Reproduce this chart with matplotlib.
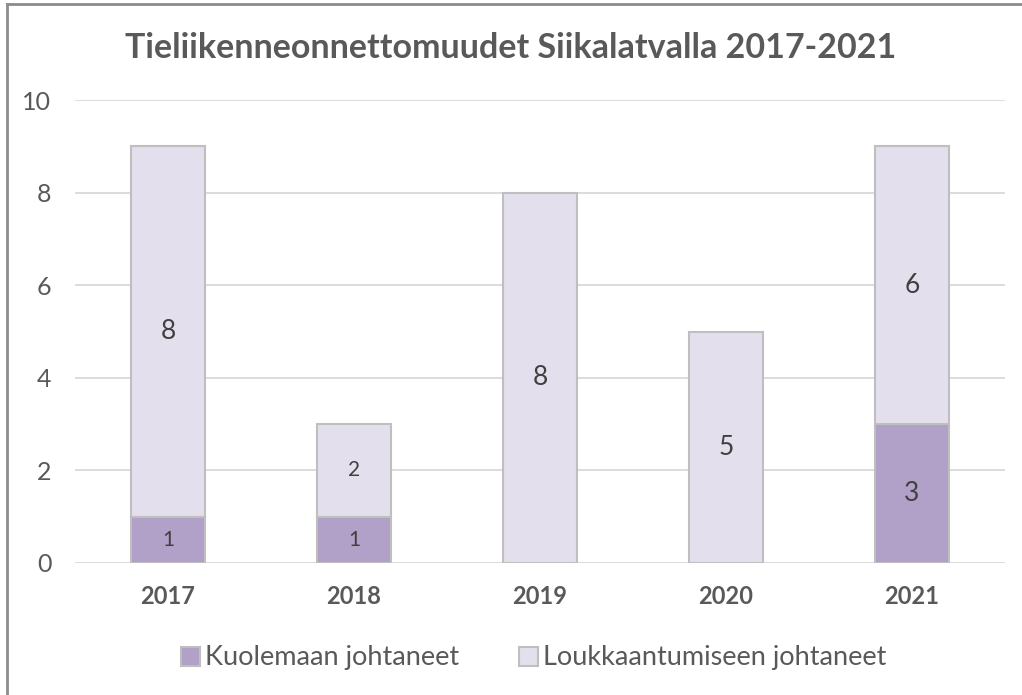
import matplotlib
matplotlib.use("Agg")
import matplotlib.pyplot as plt
from matplotlib.lines import Line2D
import numpy as np

years = ["2017", "2018", "2019", "2020", "2021"]
deaths = [1, 1, 0, 0, 3]
injuries = [8, 2, 8, 5, 6]
series_names = ["Kuolemaan johtaneet", "Loukkaantumiseen johtaneet"]
title = "Tieliikenneonnettomuudet Siikalatvalla 2017-2021"

plt.rcParams['font.family'] = ['Lato', 'DejaVu Sans']

W, H = 1022, 695
fig = plt.figure(figsize=(W/100, H/100), dpi=100)
ax = fig.add_axes([75/W, 1-563/H, 930/W, 463/H])

dark = "#B1A0C7"
light = "#E4DFEC"
edge = "#BFBFBF"
txt = "#404040"

x = np.arange(len(years))
w = 0.395
b1 = ax.bar(x, deaths, w, color=dark, edgecolor=edge, linewidth=1.5, label=series_names[0], zorder=3)
b2 = ax.bar(x, injuries, w, bottom=deaths, color=light, edgecolor=edge, linewidth=1.5, label=series_names[1], zorder=3)

for i in range(len(years)):
    if deaths[i] > 0:
        fs = 15 if deaths[i] < 2 else 19
        ax.text(x[i], deaths[i]/2, str(deaths[i]), ha='center', va='center', fontsize=fs, color=txt, zorder=4)
    if injuries[i] > 0:
        fs = 15 if injuries[i] < 3 else 19
        ax.text(x[i], deaths[i] + injuries[i]/2, str(injuries[i]), ha='center', va='center', fontsize=fs, color=txt, zorder=4)

ax.set_xlim(-0.5, len(years) - 0.5)
ax.set_ylim(0, 10)
ax.set_yticks(range(0, 11, 2))
ax.set_xticks(x)
ax.set_xticklabels(years, fontweight='bold', fontsize=17, color="#595959")
ax.tick_params(axis='y', labelsize=18, labelcolor="#595959", length=0, pad=17)
ax.tick_params(axis='x', length=0, pad=16)
ax.grid(axis='y', color="#D9D9D9", linewidth=1.3, zorder=0)
for s in ax.spines.values():
    s.set_visible(False)

fig.text(0.5, 1-48/H, title, ha='center', va='center', fontsize=24.5, fontweight='bold', color="#595959")

leg = fig.legend(handles=[b1, b2], labels=series_names, loc='center', bbox_to_anchor=(0.522, 1-658/H),
                 ncol=2, frameon=False, fontsize=19.5, handlelength=0.7, handleheight=0.7,
                 handletextpad=0.2, columnspacing=2.2)
for t in leg.get_texts():
    t.set_color("#595959")

fig.add_artist(Line2D([7/W, 7/W], [0, 1-4/H], transform=fig.transFigure, color="#8C8C8C", linewidth=2))
fig.add_artist(Line2D([7/W, 1], [1-4/H, 1-4/H], transform=fig.transFigure, color="#8C8C8C", linewidth=2))

fig.savefig("out.png", dpi=100)
